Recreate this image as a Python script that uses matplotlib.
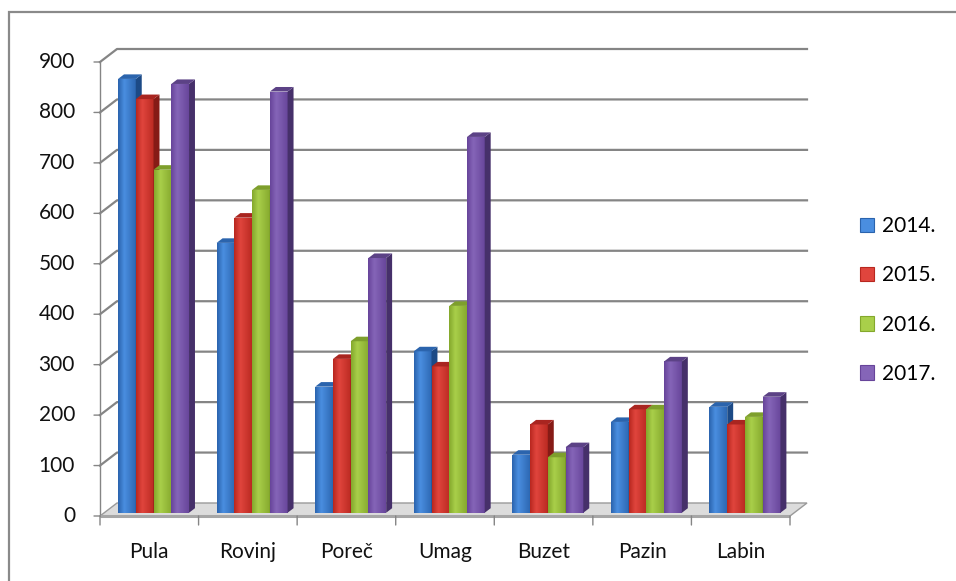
import numpy as np
import matplotlib
matplotlib.use("Agg")
import matplotlib.pyplot as plt
from matplotlib.patches import Polygon, Rectangle, Patch
from matplotlib.colors import LinearSegmentedColormap

# ---- data ----
categories = ["Pula", "Rovinj", "Poreč", "Umag", "Buzet", "Pazin", "Labin"]
series_names = ["2014.", "2015.", "2016.", "2017."]
v2014 = [860, 535, 250, 320, 115, 180, 210]
v2015 = [820, 585, 305, 290, 175, 205, 175]
v2016 = [680, 640, 340, 410, 110, 205, 190]
v2017 = [850, 835, 505, 745, 130, 300, 230]
yticks = [0, 100, 200, 300, 400, 500, 600, 700, 800, 900]

series = [v2014, v2015, v2016, v2017]
front_cols = [("#2a63ad", "#4a8ee0", "#2d68b3"),
              ("#b8271f", "#e0453d", "#bb2a22"),
              ("#84a82c", "#a9cf4a", "#86aa2e"),
              ("#67449a", "#8565b8", "#68469b")]
side_cols = ["#1c4a86", "#861b16", "#627f20", "#46306a"]
top_cols = ["#2b64ad", "#a92520", "#7e9f2c", "#5c4286"]

FONT = "Lato"
FS = 15

W, H = 956, 581
fig = plt.figure(figsize=(W / 100, H / 100), dpi=100)
fig.patch.set_facecolor("white")

# outer chart border
fig.add_artist(Rectangle((9 / W, -0.05), 1.1, (H - 12) / H + 0.05, transform=fig.transFigure,
                         fill=False, edgecolor="#8a8a8a", lw=1.6))

x0, x1, yb, yt = 100, 790, 516, 62
ax = fig.add_axes([x0 / W, (H - yb) / H, (x1 - x0) / W, (yb - yt) / H])
ax.set_xlim(0, 7)
ax.set_ylim(0, 900)
ax.axis("off")

pxx = (x1 - x0) / 7.0
pxy = (yb - yt) / 900.0
DX = 17 / pxx       # depth offset in x data units
DY = 13 / pxy       # depth offset in value units

grid_c = "#858585"
# floor
floor = Polygon([(0, 0), (7, 0), (7 + DX, DY), (DX, DY)], closed=True,
                facecolor="#dcdcdc", edgecolor="#9a9a9a", lw=1.0, clip_on=False, zorder=1)
ax.add_patch(floor)
ax.plot([0, 7], [0, 0], color="#a6a6a6", lw=2.2, clip_on=False, zorder=1.5, solid_capstyle="butt")

# back wall gridlines and left wall diagonals
for v in yticks[1:]:
    ax.plot([0, DX, 7 + DX], [v, v + DY, v + DY], color=grid_c, lw=1.6,
            clip_on=False, zorder=1)

# front y axis
ax.plot([0, 0], [0, 900], color=grid_c, lw=1.0, clip_on=False, zorder=1)
for v in yticks:
    ax.annotate("", xy=(0, v), xytext=(-6, 0), textcoords="offset pixels",
                arrowprops=dict(arrowstyle="-", color=grid_c, lw=1.0, shrinkA=0, shrinkB=0))
    ax.annotate(str(v), xy=(0, v), xytext=(-25, 0), textcoords="offset pixels",
                ha="right", va="center", fontsize=FS, family=FONT, color="#111111")
# category ticks and labels
for i in range(8):
    ax.annotate("", xy=(i, 0), xytext=(0, -9), textcoords="offset pixels",
                arrowprops=dict(arrowstyle="-", color=grid_c, lw=1.0, shrinkA=0, shrinkB=0))
for i, c in enumerate(categories):
    ax.annotate(c, xy=(i + 0.5, 0), xytext=(0, -36), textcoords="offset pixels",
                ha="center", va="center", fontsize=FS, family=FONT, color="#111111")

# 3D-looking bars
bw = 0.18
fdep, bdep = 0.25, 0.60
d = (bdep - fdep)
grad = np.linspace(0, 1, 64).reshape(1, -1)
for i in range(len(categories)):
    gx = i + 0.5 - 2 * bw + fdep * DX
    for s in range(4):
        v = series[s][i]
        bx0 = gx + s * bw
        bx1 = bx0 + bw
        by0 = fdep * DY
        by1 = v + fdep * DY
        z = 3 + i * 0.01 + s * 0.001
        cmap = LinearSegmentedColormap.from_list("g", [(0, front_cols[s][0]), (0.35, front_cols[s][1]),
                                                       (1, front_cols[s][2])])
        rect = Rectangle((bx0, by0), bw, v, facecolor="none", edgecolor="none")
        ax.add_patch(rect)
        im = ax.imshow(grad, cmap=cmap, extent=[bx0, bx1, by0, by1], aspect="auto",
                       zorder=z, interpolation="bilinear")
        im.set_clip_path(rect)
        side = Polygon([(bx1, by0), (bx1, by1), (bx1 + d * DX, by1 + d * DY), (bx1 + d * DX, by0 + d * DY)],
                       closed=True, facecolor=side_cols[s], edgecolor="none", zorder=z, clip_on=False)
        top = Polygon([(bx0, by1), (bx1, by1), (bx1 + d * DX, by1 + d * DY), (bx0 + d * DX, by1 + d * DY)],
                      closed=True, facecolor=top_cols[s], edgecolor="none", zorder=z, clip_on=False)
        ax.add_patch(side)
        ax.add_patch(top)

ax.set_xlim(0, 7)
ax.set_ylim(0, 900)

handles = [Patch(facecolor=front_cols[s][1], edgecolor=front_cols[s][0], lw=0.8) for s in range(4)]
leg = fig.legend(handles, series_names, loc="center left", bbox_to_anchor=(841 / W, 1 - 300 / H),
                 frameon=False, prop={"family": FONT, "size": FS},
                 handlelength=0.7, handleheight=0.7, handletextpad=0.35, labelspacing=1.4)

fig.savefig("out.png", dpi=100, facecolor="white")
